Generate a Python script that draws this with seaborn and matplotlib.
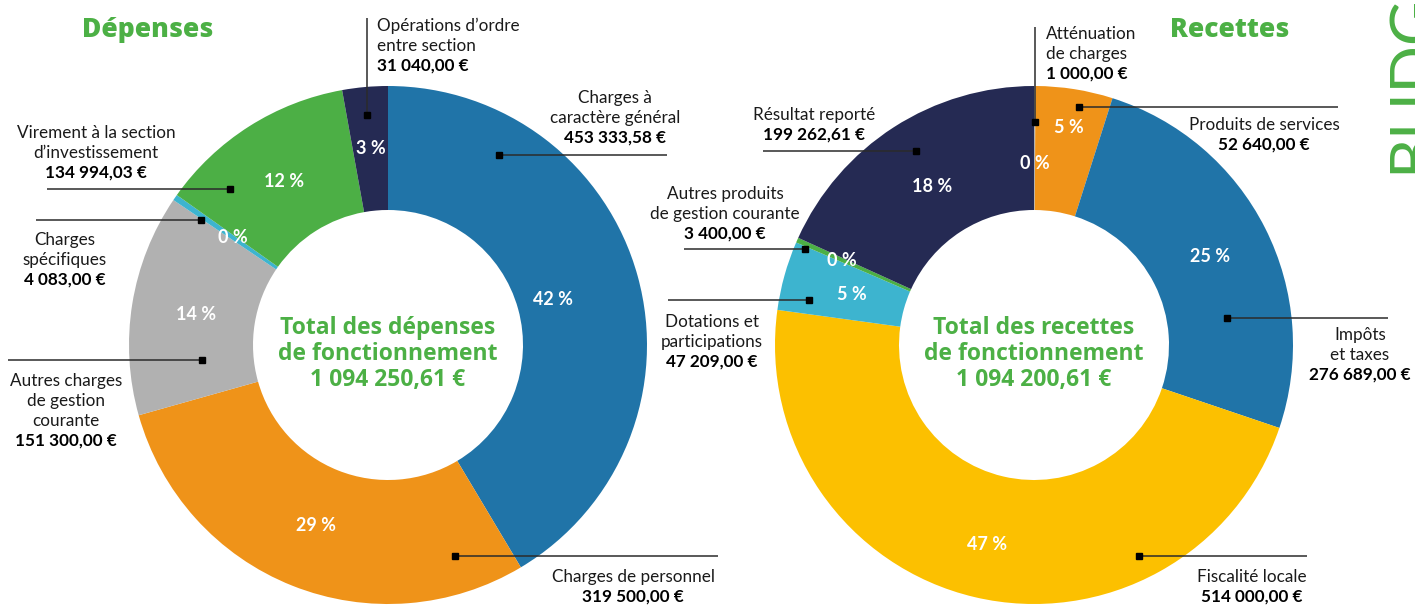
import matplotlib
matplotlib.use("Agg")
import matplotlib.pyplot as plt
import numpy as np
import seaborn as sns

W, H = 1415, 606

# Dépenses (clockwise from 12 o'clock)
dep_labels = ["Charges à\ncaractère général", "Charges de personnel",
              "Autres charges\nde gestion\ncourante", "Charges\nspécifiques",
              "Virement à la section\nd’investissement", "Opérations d’ordre\nentre section"]
dep_values = [453333.58, 319500.00, 151300.00, 4083.00, 134994.03, 31040.00]
dep_amounts = ["453 333,58 €", "319 500,00 €", "151 300,00 €", "4 083,00 €",
               "134 994,03 €", "31 040,00 €"]
dep_pct = ["42 %", "29 %", "14 %", "0 %", "12 %", "3 %"]
dep_total = "1 094 250,61 €"

# Recettes (clockwise from 12 o'clock)
rec_labels = ["Atténuation\nde charges", "Produits de services", "Impôts\net taxes",
              "Fiscalité locale", "Dotations et\nparticipations",
              "Autres produits\nde gestion courante", "Résultat reporté"]
rec_values = [1000.00, 52640.00, 276689.00, 514000.00, 47209.00, 3400.00, 199262.61]
rec_amounts = ["1 000,00 €", "52 640,00 €", "276 689,00 €", "514 000,00 €",
               "47 209,00 €", "3 400,00 €", "199 262,61 €"]
rec_pct = ["0 %", "5 %", "25 %", "47 %", "5 %", "0 %", "18 %"]
rec_total = "1 094 200,61 €"

BLUE, ORANGE, GREY = "#2074a8", "#ef9319", "#b1b1b1"
CYAN, GREEN, NAVY, YELLOW = "#3db4cf", "#4caf45", "#252a53", "#fcc000"
TXT_GREEN = "#4cb045"

dep_colors = [BLUE, ORANGE, GREY, CYAN, GREEN, NAVY]
rec_colors = [GREY, ORANGE, BLUE, YELLOW, CYAN, GREEN, NAVY]

# layout, in pixels (y from the top)
R_OUT, R_IN = 259, 135
dep_center = (388, 345)
rec_center = (1034, 345)
dep_pct_r = [0.66, 0.75, 0.75, 0.73, 0.75, 0.76]
rec_pct_r = [0.70, 0.85, 0.76, 0.79, 0.73, 0.81, 0.73]

# callouts: dot, other end of the leader, text x, first line y, alignment
dep_callouts = [
    dict(dot=(499, 155), end=(667, 155), tx=615, ty=98, ha="center"),
    dict(dot=(455, 556), end=(718, 556), tx=633, ty=577, ha="center"),
    dict(dot=(202, 360), end=(8, 360), tx=66, ty=381, ha="center"),
    dict(dot=(201, 220), end=(36, 220), tx=65, ty=240, ha="center"),
    dict(dot=(230, 189), end=(47, 189), tx=96, ty=133, ha="center"),
    dict(dot=(367, 115), end=(367, 18), tx=377, ty=26, ha="left"),
]
rec_callouts = [
    dict(dot=(1035, 122), end=(1035, 27), tx=1046, ty=34, ha="left"),
    dict(dot=(1079, 107), end=(1338, 107), tx=1264, ty=125, ha="center"),
    dict(dot=(1227, 318), end=(1388, 318), tx=1360, ty=335, ha="center"),
    dict(dot=(1139, 556), end=(1307, 556), tx=1252, ty=577, ha="center"),
    dict(dot=(809, 300), end=(668, 300), tx=712, ty=322, ha="center"),
    dict(dot=(805, 249), end=(684, 249), tx=725, ty=194, ha="center"),
    dict(dot=(916, 151), end=(763, 151), tx=814, ty=115, ha="center"),
]

sns.set_theme(style="white")
plt.rcParams["font.family"] = ["Lato", "DejaVu Sans"]


def Y(y):
    return H - y


def donut(ax, values, colors, pct, pct_r, center, title, title_x, total_label, total):
    cx, cy = center[0], Y(center[1])
    wedges, _ = ax.pie(values, colors=colors, startangle=90, counterclock=False,
                       radius=R_OUT, center=(cx, cy),
                       wedgeprops=dict(width=R_OUT - R_IN, linewidth=0))
    for w, txt, rf in zip(wedges, pct, pct_r):
        a = np.deg2rad((w.theta1 + w.theta2) / 2)
        ax.text(cx + rf * R_OUT * np.cos(a), cy + rf * R_OUT * np.sin(a), txt,
                ha="center", va="center", color="white", fontsize=13,
                fontweight="bold")
    ax.text(cx, cy - 9, total_label + "\n" + total, ha="center", va="center",
            color=TXT_GREEN, fontsize=16.5, fontweight="bold", family="Open Sans",
            linespacing=1.12)
    ax.text(title_x, Y(30), title, ha="center", va="center", color=TXT_GREEN,
            fontsize=19, fontweight=800, family=["Open Sans", "DejaVu Sans"])


def callouts(ax, labels, amounts, layout):
    step = 20
    for lab, amt, c in zip(labels, amounts, layout):
        (x0, y0), (x1, y1) = c["dot"], c["end"]
        ax.plot([x0, x1], [Y(y0), Y(y1)], color="#2b2b2b", lw=1.1,
                solid_capstyle="butt")
        ax.plot([x0], [Y(y0)], marker="s", ms=4.3, color="black", lw=0)
        lines = lab.split("\n")
        for i, ln in enumerate(lines):
            ax.text(c["tx"], Y(c["ty"] + i * step), ln, ha=c["ha"], va="center",
                    fontsize=12.3, color="#1a1a1a")
        ax.text(c["tx"], Y(c["ty"] + len(lines) * step), amt, ha=c["ha"],
                va="center", fontsize=12.3, fontweight="bold", color="black")


fig = plt.figure(figsize=(W / 100, H / 100), dpi=100)
ax = fig.add_axes([0, 0, 1, 1])

donut(ax, dep_values, dep_colors, dep_pct, dep_pct_r, dep_center,
      "Dépenses", 148, "Total des dépenses\nde fonctionnement", dep_total)
donut(ax, rec_values, rec_colors, rec_pct, rec_pct_r, rec_center,
      "Recettes", 1230, "Total des recettes\nde fonctionnement", rec_total)
callouts(ax, dep_labels, dep_amounts, dep_callouts)
callouts(ax, rec_labels, rec_amounts, rec_callouts)

ax.text(1385, Y(173), "BUDGET", rotation=90, ha="left", va="bottom",
        color=TXT_GREEN, fontsize=45, fontweight="normal")

ax.set_xlim(0, W)
ax.set_ylim(0, H)
ax.set_aspect("equal")
ax.axis("off")

fig.savefig("out.png", dpi=100, facecolor="white")
